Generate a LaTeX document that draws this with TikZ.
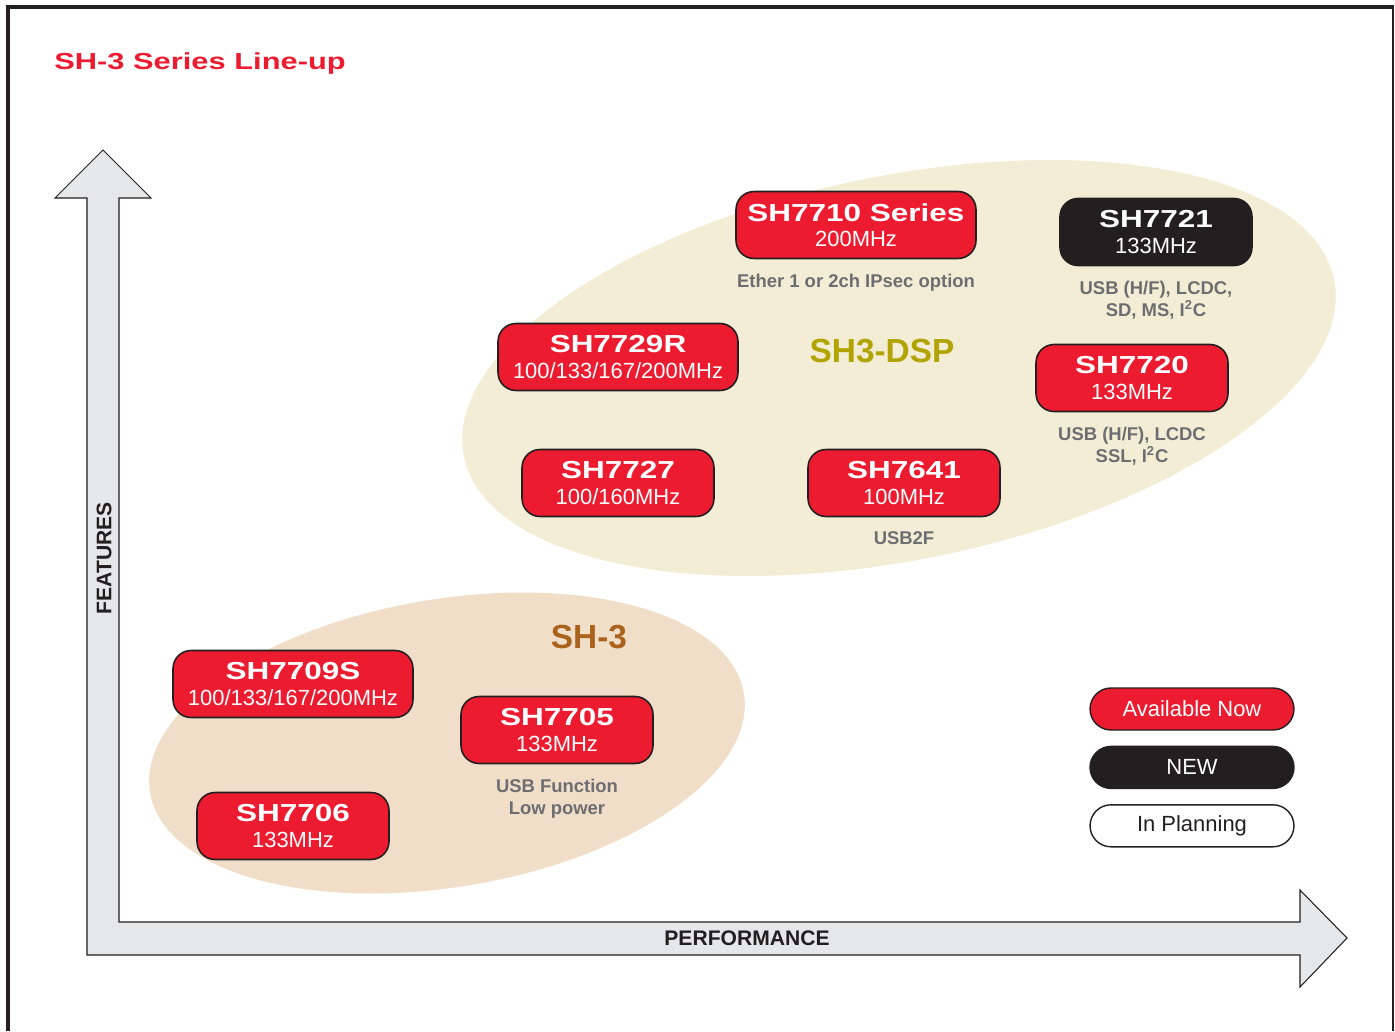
\documentclass[tikz,border=0pt]{standalone}
\usepackage{fontspec}
\setmainfont{Liberation Sans}
\newfontfamily\widefont[FakeStretch=1.28]{Liberation Sans}
\newfontfamily\titlefont[FakeStretch=1.33]{Liberation Sans}
\usetikzlibrary{positioning}
\definecolor{nowred}{HTML}{ED1B2F}
\definecolor{inkblack}{HTML}{231F20}
\definecolor{notegray}{HTML}{6D6E71}
\definecolor{dsptext}{HTML}{B2A400}
\definecolor{sh3text}{HTML}{A9631D}
\definecolor{dspfill}{HTML}{F2EDD4}
\definecolor{sh3fill}{HTML}{F1DEC8}
\definecolor{axisfill}{HTML}{E6E7E8}
\newcommand\chipname[1]{{\widefont\bfseries\fontsize{14}{14}\selectfont #1}}

\begin{document}
\begin{tikzpicture}[x=0.02cm,y=-0.02cm]
\tikzset{
  chip/.style={draw=inkblack,line width=0.9pt,rounded corners=0.36cm,minimum width=3.84cm,
    minimum height=1.34cm,inner sep=0pt,align=center,text=white,font=\fontsize{12.5}{14.3}\selectfont},
  widechip/.style={chip,minimum width=4.8cm},
  chipred/.style={fill=nowred},
  chipnew/.style={fill=inkblack},
  note/.style={text=notegray,font=\bfseries\fontsize{10.5}{13}\selectfont,align=center,inner sep=0pt},
  family/.style={font=\bfseries\fontsize{19}{19}\selectfont,inner sep=0pt},
  legend/.style={draw=inkblack,line width=0.8pt,rounded corners=0.42cm,minimum width=4.08cm,
    minimum height=0.84cm,inner sep=0pt,font=\fontsize{12.5}{12.5}\selectfont},
  axislabel/.style={text=inkblack,font=\bfseries\fontsize{12}{12}\selectfont,inner sep=0pt}
}
\useasboundingbox (0,0) rectangle (1395,1031);
% ---------- frame ----------
\draw[inkblack,line width=2.5pt] (8,1031) -- (8,7) -- (1394,7);
\draw[inkblack,line width=0.9pt] (1393,7) -- (1393,1031);
% ---------- family areas ----------
\fill[dspfill,rotate around={11.5:(899,368)}] (899,368) ellipse [x radius=444,y radius=192];
\fill[sh3fill,rotate around={9.5:(447,743)}] (447,743) ellipse [x radius=301,y radius=144];
% ---------- axes ----------
\draw[inkblack,line width=0.6pt,fill=axisfill] (87,955) -- (1300,955) -- (1300,987) -- (1347,938)
  -- (1300,890) -- (1300,922) -- (119,922) -- (119,198) -- (151,198) -- (103,150) -- (55,198)
  -- (87,198) -- cycle;
\node[axislabel,rotate=90] (features) at (104,558) {FEATURES};
\node[axislabel] (performance) at (747,938) {PERFORMANCE};
% ---------- title ----------
\node[anchor=west,inner sep=0pt,text=nowred] (title) at (54,64)
  {\titlefont\bfseries\fontsize{13.2}{13.2}\selectfont SH-3 Series Line-up};
% ---------- SH3-DSP ----------
\node[family,text=dsptext] (dsp) at (882,351) {SH3-DSP};
\node[widechip,chipred] (sh7710) at (856,225) {\chipname{SH7710 Series}\\200MHz};
\node[note,below=0.28cm of sh7710] (sh7710n) {Ether 1 or 2ch IPsec option};
\node[chip,chipnew] (sh7721) at (1156,232) {\chipname{SH7721}\\133MHz};
\node[note,below=0.28cm of sh7721] (sh7721n) {USB (H/F), LCDC,\\SD, MS, I\textsuperscript{2}C};
\node[widechip,chipred] (sh7729r) at (618,357) {\chipname{SH7729R}\\100/133/167/200MHz};
\node[chip,chipred] (sh7720) at (1132,378) {\chipname{SH7720}\\133MHz};
\node[note,below=0.28cm of sh7720] (sh7720n) {USB (H/F), LCDC\\SSL, I\textsuperscript{2}C};
\node[chip,chipred] (sh7727) at (618,483) {\chipname{SH7727}\\100/160MHz};
\node[chip,chipred] (sh7641) at (904,483) {\chipname{SH7641}\\100MHz};
\node[note,below=0.28cm of sh7641] (sh7641n) {USB2F};
% ---------- SH-3 ----------
\node[family,text=sh3text] (sh3) at (589,637) {SH-3};
\node[widechip,chipred] (sh7709s) at (293,684) {\chipname{SH7709S}\\100/133/167/200MHz};
\node[chip,chipred] (sh7705) at (557,730) {\chipname{SH7705}\\133MHz};
\node[note,below=0.28cm of sh7705] (sh7705n) {USB Function\\Low power};
\node[chip,chipred] (sh7706) at (293,826) {\chipname{SH7706}\\133MHz};
% ---------- legend ----------
\node[legend,fill=nowred,text=white] (avail) at (1192,709) {Available Now};
\node[legend,fill=inkblack,text=white,below=0.3cm of avail] (new) {NEW};
\node[legend,fill=white,text=inkblack,below=0.3cm of new] (planning) {In Planning};
\end{tikzpicture}
\end{document}
